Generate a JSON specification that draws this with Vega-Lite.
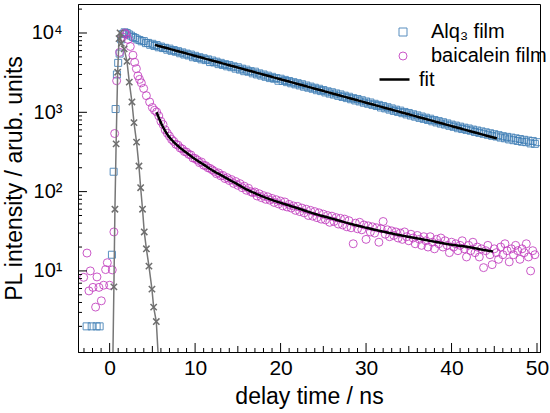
{
  "$schema": "https://vega.github.io/schema/vega-lite/v6.json",
  "width": 462,
  "height": 348,
  "autosize": {"type": "none"},
  "padding": {"left": 78, "top": 4, "right": 10, "bottom": 61},
  "background": "white",
  "config": {
    "view": {"stroke": "black", "strokeWidth": 1},
    "font": "Liberation Sans",
    "axis": {"grid": false, "ticks": false, "domainColor": "black", "domainWidth": 1, "labelColor": "black", "titleColor": "black", "labelFont": "Liberation Sans", "titleFont": "Liberation Sans", "labelFontSize": 21, "titleFontSize": 23, "titleFontWeight": "normal", "labelOverlap": false, "labelBound": false, "labelFlush": false}
  },
  "datasets": {
    "alq": [
      {"t": -2.69, "v": 2}, {"t": -2.1, "v": 2}, {"t": -1.52, "v": 2}, {"t": -1.17, "v": 2},
      {"t": 0.27, "v": 16}, {"t": 0.47, "v": 178}, {"t": 0.7, "v": 1100}, {"t": 0.85, "v": 3000}, {"t": 1.0, "v": 4200}, {"t": 1.17, "v": 5500}, {"t": 1.35, "v": 8300}, {"t": 1.55, "v": 9700}, {"t": 1.75, "v": 10200}, {"t": 2.0, "v": 10000}, {"t": 2.25, "v": 9600}, {"t": 2.5, "v": 9250}, {"t": 2.75, "v": 8900}, {"t": 3.0, "v": 8650}, {"t": 3.25, "v": 8300}, {"t": 3.5, "v": 8150}, {"t": 3.75, "v": 7850},
      {"t": 4, "v": 7900}, {"t": 4.25, "v": 7450}, {"t": 4.5, "v": 7500}, {"t": 4.75, "v": 7100}, {"t": 5, "v": 7300}, {"t": 5.25, "v": 6850}, {"t": 5.5, "v": 7050}, {"t": 5.75, "v": 6600},
      {"t": 6, "v": 6750}, {"t": 6.25, "v": 6450}, {"t": 6.5, "v": 6500}, {"t": 6.75, "v": 6150}, {"t": 7, "v": 6350}, {"t": 7.25, "v": 5950}, {"t": 7.5, "v": 6100}, {"t": 7.75, "v": 5800},
      {"t": 8, "v": 5900}, {"t": 8.25, "v": 5550}, {"t": 8.5, "v": 5700}, {"t": 8.75, "v": 5350}, {"t": 9, "v": 5500}, {"t": 9.25, "v": 5200}, {"t": 9.5, "v": 5350}, {"t": 9.75, "v": 4950},
      {"t": 10, "v": 5150}, {"t": 10.25, "v": 4850}, {"t": 10.5, "v": 4950}, {"t": 10.75, "v": 4650}, {"t": 11, "v": 4800}, {"t": 11.25, "v": 4550}, {"t": 11.5, "v": 4650}, {"t": 11.75, "v": 4300},
      {"t": 12, "v": 4500}, {"t": 12.25, "v": 4250}, {"t": 12.5, "v": 4350}, {"t": 12.75, "v": 4050}, {"t": 13, "v": 4200}, {"t": 13.25, "v": 3950}, {"t": 13.5, "v": 4050}, {"t": 13.75, "v": 3800},
      {"t": 14, "v": 3950}, {"t": 14.25, "v": 3700}, {"t": 14.5, "v": 3800}, {"t": 14.75, "v": 3550}, {"t": 15, "v": 3700}, {"t": 15.25, "v": 3450}, {"t": 15.5, "v": 3550}, {"t": 15.75, "v": 3300},
      {"t": 16, "v": 3450}, {"t": 16.25, "v": 3250}, {"t": 16.5, "v": 3300}, {"t": 16.75, "v": 3100}, {"t": 17, "v": 3250}, {"t": 17.25, "v": 3000}, {"t": 17.5, "v": 3100}, {"t": 17.75, "v": 2900},
      {"t": 18, "v": 3000}, {"t": 18.25, "v": 2800}, {"t": 18.5, "v": 2900}, {"t": 18.75, "v": 2700}, {"t": 19, "v": 2800}, {"t": 19.25, "v": 2650}, {"t": 19.5, "v": 2700}, {"t": 19.75, "v": 2500},
      {"t": 20, "v": 2650}, {"t": 20.25, "v": 2480}, {"t": 20.5, "v": 2560}, {"t": 20.75, "v": 2400}, {"t": 21, "v": 2480}, {"t": 21.25, "v": 2320}, {"t": 21.5, "v": 2400}, {"t": 21.75, "v": 2250},
      {"t": 22, "v": 2330}, {"t": 22.25, "v": 2180}, {"t": 22.5, "v": 2260}, {"t": 22.75, "v": 2100}, {"t": 23, "v": 2180}, {"t": 23.25, "v": 2040}, {"t": 23.5, "v": 2110}, {"t": 23.75, "v": 1980},
      {"t": 24, "v": 2040}, {"t": 24.25, "v": 1900}, {"t": 24.5, "v": 1980}, {"t": 24.75, "v": 1850}, {"t": 25, "v": 1910}, {"t": 25.25, "v": 1780}, {"t": 25.5, "v": 1840}, {"t": 25.75, "v": 1720},
      {"t": 26, "v": 1790}, {"t": 26.25, "v": 1670}, {"t": 26.5, "v": 1730}, {"t": 26.75, "v": 1610}, {"t": 27, "v": 1680}, {"t": 27.25, "v": 1560}, {"t": 27.5, "v": 1620}, {"t": 27.75, "v": 1510},
      {"t": 28, "v": 1570}, {"t": 28.25, "v": 1460}, {"t": 28.5, "v": 1510}, {"t": 28.75, "v": 1410}, {"t": 29, "v": 1470}, {"t": 29.25, "v": 1370}, {"t": 29.5, "v": 1420}, {"t": 29.75, "v": 1320},
      {"t": 30, "v": 1370}, {"t": 30.25, "v": 1280}, {"t": 30.5, "v": 1330}, {"t": 30.75, "v": 1240}, {"t": 31, "v": 1280}, {"t": 31.25, "v": 1200}, {"t": 31.5, "v": 1240}, {"t": 31.75, "v": 1150},
      {"t": 32, "v": 1200}, {"t": 32.25, "v": 1120}, {"t": 32.5, "v": 1160}, {"t": 32.75, "v": 1080}, {"t": 33, "v": 1120}, {"t": 33.25, "v": 1040}, {"t": 33.5, "v": 1080}, {"t": 33.75, "v": 1010},
      {"t": 34, "v": 1050}, {"t": 34.25, "v": 975}, {"t": 34.5, "v": 1010}, {"t": 34.75, "v": 940}, {"t": 35, "v": 980}, {"t": 35.25, "v": 910}, {"t": 35.5, "v": 945}, {"t": 35.75, "v": 880},
      {"t": 36, "v": 915}, {"t": 36.25, "v": 850}, {"t": 36.5, "v": 885}, {"t": 36.75, "v": 825}, {"t": 37, "v": 855}, {"t": 37.25, "v": 800}, {"t": 37.5, "v": 830}, {"t": 37.75, "v": 770},
      {"t": 38, "v": 800}, {"t": 38.25, "v": 745}, {"t": 38.5, "v": 775}, {"t": 38.75, "v": 720}, {"t": 39, "v": 750}, {"t": 39.25, "v": 700}, {"t": 39.5, "v": 725}, {"t": 39.75, "v": 675},
      {"t": 40, "v": 700}, {"t": 40.25, "v": 655}, {"t": 40.5, "v": 680}, {"t": 40.75, "v": 630}, {"t": 41, "v": 660}, {"t": 41.25, "v": 615}, {"t": 41.5, "v": 640}, {"t": 41.75, "v": 600},
      {"t": 42, "v": 625}, {"t": 42.25, "v": 585}, {"t": 42.5, "v": 605}, {"t": 42.75, "v": 565}, {"t": 43, "v": 590}, {"t": 43.25, "v": 550}, {"t": 43.5, "v": 575}, {"t": 43.75, "v": 535},
      {"t": 44, "v": 560}, {"t": 44.25, "v": 520}, {"t": 44.5, "v": 545}, {"t": 44.75, "v": 505}, {"t": 45, "v": 530}, {"t": 45.25, "v": 495}, {"t": 45.5, "v": 515}, {"t": 45.75, "v": 480},
      {"t": 46, "v": 500}, {"t": 46.25, "v": 470}, {"t": 46.5, "v": 490}, {"t": 46.75, "v": 455}, {"t": 47, "v": 480}, {"t": 47.25, "v": 445}, {"t": 47.5, "v": 470}, {"t": 47.75, "v": 435},
      {"t": 48, "v": 460}, {"t": 48.25, "v": 425}, {"t": 48.5, "v": 450}, {"t": 48.75, "v": 420}, {"t": 49, "v": 440}, {"t": 49.25, "v": 405}, {"t": 49.5, "v": 435}, {"t": 49.75, "v": 400}, {"t": 50, "v": 420}
    ],
    "bai": [
      {"t": -3.04, "v": 8.3}, {"t": -2.65, "v": 16.8}, {"t": -2.42, "v": 5.6}, {"t": -2.26, "v": 10}, {"t": -1.95, "v": 6.2}, {"t": -1.64, "v": 3.5}, {"t": -1.48, "v": 8.4}, {"t": -1.25, "v": 6.2}, {"t": -0.97, "v": 4.2}, {"t": -0.7, "v": 6.6}, {"t": -0.47, "v": 10.4}, {"t": -0.27, "v": 12.7}, {"t": 0.0, "v": 6.6}, {"t": 0.31, "v": 10.3}, {"t": 0.5, "v": 31},
      {"t": 0.59, "v": 540}, {"t": 0.82, "v": 2500}, {"t": 1.17, "v": 5700}, {"t": 1.52, "v": 8900}, {"t": 1.76, "v": 10000}, {"t": 1.95, "v": 9600}, {"t": 2.15, "v": 8300}, {"t": 2.42, "v": 6760}, {"t": 2.73, "v": 5250}, {"t": 2.93, "v": 4270}, {"t": 3.13, "v": 3550}, {"t": 3.31, "v": 2880}, {"t": 3.5, "v": 2600}, {"t": 3.71, "v": 2350}, {"t": 3.98, "v": 2000}, {"t": 4.3, "v": 1620}, {"t": 4.68, "v": 1350}, {"t": 5.0, "v": 1150},
      {"t": 5.25, "v": 1060}, {"t": 5.5, "v": 1010}, {"t": 5.75, "v": 900}, {"t": 6, "v": 770}, {"t": 6.25, "v": 700}, {"t": 6.5, "v": 600}, {"t": 6.75, "v": 545}, {"t": 7, "v": 500}, {"t": 7.25, "v": 455}, {"t": 7.5, "v": 430}, {"t": 7.75, "v": 395},
      {"t": 8, "v": 385}, {"t": 8.25, "v": 355}, {"t": 8.5, "v": 345}, {"t": 8.75, "v": 320}, {"t": 9, "v": 315}, {"t": 9.25, "v": 295}, {"t": 9.5, "v": 290}, {"t": 9.75, "v": 265},
      {"t": 10, "v": 262}, {"t": 10.25, "v": 250}, {"t": 10.5, "v": 232}, {"t": 10.75, "v": 236}, {"t": 11, "v": 215}, {"t": 11.25, "v": 212}, {"t": 11.5, "v": 200}, {"t": 11.75, "v": 196},
      {"t": 12, "v": 188}, {"t": 12.25, "v": 180}, {"t": 12.5, "v": 168}, {"t": 12.75, "v": 172}, {"t": 13, "v": 158}, {"t": 13.25, "v": 160}, {"t": 13.5, "v": 146}, {"t": 13.75, "v": 150},
      {"t": 14, "v": 138}, {"t": 14.25, "v": 142}, {"t": 14.5, "v": 127}, {"t": 14.75, "v": 134}, {"t": 15, "v": 120}, {"t": 15.25, "v": 126}, {"t": 15.5, "v": 112}, {"t": 15.75, "v": 117},
      {"t": 16, "v": 104}, {"t": 16.25, "v": 110}, {"t": 16.5, "v": 100}, {"t": 16.75, "v": 97}, {"t": 17, "v": 99}, {"t": 17.25, "v": 88}, {"t": 17.5, "v": 94}, {"t": 17.75, "v": 84},
      {"t": 18, "v": 89}, {"t": 18.25, "v": 80}, {"t": 18.5, "v": 86}, {"t": 18.75, "v": 78}, {"t": 19, "v": 82}, {"t": 19.25, "v": 73}, {"t": 19.5, "v": 79}, {"t": 19.75, "v": 70},
      {"t": 20, "v": 76}, {"t": 20.25, "v": 66}, {"t": 20.5, "v": 74}, {"t": 20.75, "v": 64}, {"t": 21, "v": 69}, {"t": 21.25, "v": 62}, {"t": 21.5, "v": 66}, {"t": 21.75, "v": 58},
      {"t": 22, "v": 65}, {"t": 22.25, "v": 56}, {"t": 22.5, "v": 62}, {"t": 22.75, "v": 54}, {"t": 23, "v": 60}, {"t": 23.25, "v": 50}, {"t": 23.5, "v": 58}, {"t": 23.75, "v": 49},
      {"t": 24, "v": 56}, {"t": 24.25, "v": 47}, {"t": 24.5, "v": 54}, {"t": 24.75, "v": 45}, {"t": 25, "v": 52}, {"t": 25.25, "v": 44}, {"t": 25.5, "v": 50}, {"t": 25.75, "v": 41},
      {"t": 26, "v": 49}, {"t": 26.25, "v": 42}, {"t": 26.5, "v": 47}, {"t": 26.75, "v": 39}, {"t": 27, "v": 46}, {"t": 27.25, "v": 38}, {"t": 27.5, "v": 45}, {"t": 27.75, "v": 36},
      {"t": 28, "v": 43}, {"t": 28.25, "v": 35}, {"t": 28.5, "v": 22}, {"t": 28.75, "v": 40}, {"t": 29, "v": 34}, {"t": 29.25, "v": 41}, {"t": 29.5, "v": 33}, {"t": 29.75, "v": 38},
      {"t": 30, "v": 25}, {"t": 30.25, "v": 37}, {"t": 30.5, "v": 31}, {"t": 30.75, "v": 36}, {"t": 31, "v": 30}, {"t": 31.25, "v": 35}, {"t": 31.5, "v": 23}, {"t": 31.75, "v": 34},
      {"t": 32, "v": 42}, {"t": 32.25, "v": 29}, {"t": 32.5, "v": 33}, {"t": 32.75, "v": 27}, {"t": 33, "v": 32}, {"t": 33.25, "v": 28}, {"t": 33.5, "v": 31}, {"t": 33.75, "v": 26},
      {"t": 34, "v": 30}, {"t": 34.25, "v": 25}, {"t": 34.5, "v": 31}, {"t": 34.75, "v": 27}, {"t": 35, "v": 24}, {"t": 35.25, "v": 29}, {"t": 35.5, "v": 26}, {"t": 35.75, "v": 22},
      {"t": 36, "v": 28}, {"t": 36.25, "v": 25}, {"t": 36.5, "v": 21}, {"t": 36.75, "v": 27}, {"t": 37, "v": 24}, {"t": 37.25, "v": 20}, {"t": 37.5, "v": 27}, {"t": 37.75, "v": 23},
      {"t": 38, "v": 19}, {"t": 38.25, "v": 25}, {"t": 38.5, "v": 22}, {"t": 38.75, "v": 26}, {"t": 39, "v": 20}, {"t": 39.25, "v": 24}, {"t": 39.5, "v": 21}, {"t": 39.75, "v": 17},
      {"t": 40, "v": 23}, {"t": 40.25, "v": 20}, {"t": 40.5, "v": 22}, {"t": 40.75, "v": 18}, {"t": 41, "v": 21}, {"t": 41.25, "v": 24}, {"t": 41.5, "v": 19}, {"t": 41.75, "v": 15},
      {"t": 42, "v": 21}, {"t": 42.25, "v": 18}, {"t": 42.5, "v": 23}, {"t": 42.75, "v": 17}, {"t": 43, "v": 20}, {"t": 43.25, "v": 15}, {"t": 43.5, "v": 19}, {"t": 43.75, "v": 11},
      {"t": 44, "v": 18}, {"t": 44.25, "v": 21}, {"t": 44.5, "v": 16}, {"t": 44.75, "v": 12}, {"t": 45, "v": 19}, {"t": 45.25, "v": 17}, {"t": 45.5, "v": 14}, {"t": 45.75, "v": 20},
      {"t": 46, "v": 16}, {"t": 46.25, "v": 22}, {"t": 46.5, "v": 18}, {"t": 46.75, "v": 13}, {"t": 47, "v": 19}, {"t": 47.25, "v": 16}, {"t": 47.5, "v": 21}, {"t": 47.75, "v": 18},
      {"t": 48, "v": 14}, {"t": 48.25, "v": 19}, {"t": 48.5, "v": 17}, {"t": 48.75, "v": 22}, {"t": 49, "v": 15}, {"t": 49.25, "v": 10}, {"t": 49.5, "v": 18}, {"t": 49.75, "v": 16}
    ],
    "irf": [
      {"t": 0.38, "v": 0.8}, {"t": 0.5, "v": 6.3}, {"t": 0.62, "v": 60}, {"t": 0.76, "v": 400}, {"t": 0.94, "v": 3200}, {"t": 1.1, "v": 8500}, {"t": 1.22, "v": 10000}, {"t": 1.37, "v": 7400}, {"t": 1.7, "v": 6300}, {"t": 2.03, "v": 4400}, {"t": 2.3, "v": 2400}, {"t": 2.61, "v": 1350}, {"t": 2.85, "v": 740}, {"t": 3.15, "v": 420}, {"t": 3.43, "v": 210}, {"t": 3.63, "v": 112}, {"t": 3.85, "v": 60}, {"t": 4.05, "v": 31}, {"t": 4.3, "v": 19}, {"t": 4.6, "v": 11.5}, {"t": 4.95, "v": 5.9}, {"t": 5.15, "v": 3.5}, {"t": 5.46, "v": 2.3}, {"t": 5.7, "v": 0.8}
    ],
    "fitA": [
      {"t": 5.3, "v": 7080}, {"t": 15.3, "v": 3590}, {"t": 25.3, "v": 1820}, {"t": 35.3, "v": 923}, {"t": 45.3, "v": 468}
    ],
    "fitB": [
      {"t": 5.5, "v": 1000}, {"t": 6.0, "v": 741}, {"t": 6.5, "v": 582}, {"t": 7.0, "v": 484}, {"t": 7.5, "v": 422}, {"t": 8.0, "v": 376}, {"t": 8.5, "v": 339}, {"t": 9.0, "v": 309}, {"t": 10, "v": 257}, {"t": 11, "v": 219}, {"t": 12, "v": 186}, {"t": 13, "v": 162}, {"t": 14, "v": 141}, {"t": 15, "v": 123}, {"t": 16, "v": 107}, {"t": 17, "v": 95.5}, {"t": 18, "v": 86.1}, {"t": 19, "v": 78.5}, {"t": 20, "v": 72.4}, {"t": 22, "v": 61.7}, {"t": 24, "v": 52.5}, {"t": 26, "v": 45.7}, {"t": 28, "v": 39.8}, {"t": 30, "v": 35.1}, {"t": 32, "v": 31.3}, {"t": 34, "v": 28.2}, {"t": 36, "v": 25.7}, {"t": 38, "v": 23.4}, {"t": 40, "v": 21.4}, {"t": 42, "v": 20.0}, {"t": 44, "v": 18.2}, {"t": 44.85, "v": 17.6}
    ],
    "xticks": [
      {"p": -3, "k": "minor"}, {"p": -2, "k": "minor"}, {"p": -1, "k": "minor"}, {"p": 0, "k": "major"}, {"p": 1, "k": "minor"}, {"p": 2, "k": "minor"}, {"p": 3, "k": "minor"}, {"p": 4, "k": "minor"}, {"p": 5, "k": "mid"},
      {"p": 6, "k": "minor"}, {"p": 7, "k": "minor"}, {"p": 8, "k": "minor"}, {"p": 9, "k": "minor"}, {"p": 10, "k": "major"}, {"p": 11, "k": "minor"}, {"p": 12, "k": "minor"}, {"p": 13, "k": "minor"}, {"p": 14, "k": "minor"}, {"p": 15, "k": "mid"},
      {"p": 16, "k": "minor"}, {"p": 17, "k": "minor"}, {"p": 18, "k": "minor"}, {"p": 19, "k": "minor"}, {"p": 20, "k": "major"}, {"p": 21, "k": "minor"}, {"p": 22, "k": "minor"}, {"p": 23, "k": "minor"}, {"p": 24, "k": "minor"}, {"p": 25, "k": "mid"},
      {"p": 26, "k": "minor"}, {"p": 27, "k": "minor"}, {"p": 28, "k": "minor"}, {"p": 29, "k": "minor"}, {"p": 30, "k": "major"}, {"p": 31, "k": "minor"}, {"p": 32, "k": "minor"}, {"p": 33, "k": "minor"}, {"p": 34, "k": "minor"}, {"p": 35, "k": "mid"},
      {"p": 36, "k": "minor"}, {"p": 37, "k": "minor"}, {"p": 38, "k": "minor"}, {"p": 39, "k": "minor"}, {"p": 40, "k": "major"}, {"p": 41, "k": "minor"}, {"p": 42, "k": "minor"}, {"p": 43, "k": "minor"}, {"p": 44, "k": "minor"}, {"p": 45, "k": "mid"},
      {"p": 46, "k": "minor"}, {"p": 47, "k": "minor"}, {"p": 48, "k": "minor"}, {"p": 49, "k": "minor"}, {"p": 50, "k": "major"}
    ],
    "yticks": [
      {"p": 2, "k": "minor"}, {"p": 3, "k": "minor"}, {"p": 4, "k": "minor"}, {"p": 5, "k": "minor"}, {"p": 6, "k": "minor"}, {"p": 7, "k": "minor"}, {"p": 8, "k": "minor"}, {"p": 9, "k": "minor"}, {"p": 10, "k": "major"},
      {"p": 20, "k": "minor"}, {"p": 30, "k": "minor"}, {"p": 40, "k": "minor"}, {"p": 50, "k": "minor"}, {"p": 60, "k": "minor"}, {"p": 70, "k": "minor"}, {"p": 80, "k": "minor"}, {"p": 90, "k": "minor"}, {"p": 100, "k": "major"},
      {"p": 200, "k": "minor"}, {"p": 300, "k": "minor"}, {"p": 400, "k": "minor"}, {"p": 500, "k": "minor"}, {"p": 600, "k": "minor"}, {"p": 700, "k": "minor"}, {"p": 800, "k": "minor"}, {"p": 900, "k": "minor"}, {"p": 1000, "k": "major"},
      {"p": 2000, "k": "minor"}, {"p": 3000, "k": "minor"}, {"p": 4000, "k": "minor"}, {"p": 5000, "k": "minor"}, {"p": 6000, "k": "minor"}, {"p": 7000, "k": "minor"}, {"p": 8000, "k": "minor"}, {"p": 9000, "k": "minor"}, {"p": 10000, "k": "major"},
      {"p": 20000, "k": "minor"}
    ]
  },
  "layer": [
    {
      "data": {"name": "alq"},
      "mark": {"type": "point", "filled": false, "size": 49, "strokeWidth": 1, "opacity": 0.85, "clip": true},
      "encoding": {
        "x": {"field": "t", "type": "quantitative", "scale": {"domain": [-3.7, 50.35], "nice": false, "zero": false},
          "axis": {"orient": "bottom", "title": "delay time / ns", "values": [0, 10, 20, 30, 40, 50], "format": "d", "labelPadding": 5, "titlePadding": 7}},
        "y": {"field": "v", "type": "quantitative", "scale": {"type": "log", "domain": [0.95, 23200], "nice": false},
          "axis": {"orient": "left", "title": "PL intensity / arub. units", "values": [10, 100, 1000, 10000], "labelFontSize": 20,
            "labelExpr": "datum.value === 10 ? '10¹' : datum.value === 100 ? '10²' : datum.value === 1000 ? '10³' : '10⁴'", "labelPadding": 16, "titlePadding": 5}},
        "color": {
          "datum": "Alq₃ film", "type": "nominal",
          "scale": {"domain": ["Alq₃ film", "baicalein film"], "range": ["#3d7db5", "#c23cbf"]},
          "legend": {"title": null, "orient": "none", "legendX": 315, "legendY": 18, "padding": 0, "labelFont": "Liberation Sans", "labelFontSize": 20, "labelColor": "black", "labelOffset": 18, "labelLimit": 300, "rowPadding": 4, "symbolSize": 64, "symbolStrokeWidth": 1}
        },
        "shape": {
          "datum": "Alq₃ film", "type": "nominal",
          "scale": {"domain": ["Alq₃ film", "baicalein film"], "range": ["square", "circle"]},
          "legend": {"title": null, "orient": "none", "legendX": 315, "legendY": 18, "padding": 0, "labelFont": "Liberation Sans", "labelFontSize": 20, "labelColor": "black", "labelOffset": 18, "labelLimit": 300, "rowPadding": 4, "symbolSize": 64, "symbolStrokeWidth": 1}
        }
      }
    },
    {
      "data": {"name": "bai"},
      "mark": {"type": "point", "filled": false, "size": 64, "strokeWidth": 1, "opacity": 0.85, "clip": true},
      "encoding": {
        "x": {"field": "t", "type": "quantitative", "scale": {"domain": [-3.7, 50.35], "nice": false, "zero": false}},
        "y": {"field": "v", "type": "quantitative", "scale": {"type": "log", "domain": [0.95, 23200], "nice": false}},
        "color": {"datum": "baicalein film", "type": "nominal"},
        "shape": {"datum": "baicalein film", "type": "nominal"}
      }
    },
    {
      "data": {"name": "irf"},
      "mark": {"type": "line", "color": "#777777", "strokeWidth": 1.5, "clip": true},
      "encoding": {
        "x": {"field": "t", "type": "quantitative", "scale": {"domain": [-3.7, 50.35], "nice": false, "zero": false}},
        "y": {"field": "v", "type": "quantitative", "scale": {"type": "log", "domain": [0.95, 23200], "nice": false}}
      }
    },
    {
      "data": {"name": "irf"},
      "transform": [{"filter": "datum.v > 1"}],
      "mark": {"type": "point", "shape": "M-1,-1L1,1M1,-1L-1,1", "filled": false, "color": "#6e6e6e", "size": 40, "strokeWidth": 1.5, "opacity": 1, "clip": true},
      "encoding": {
        "x": {"field": "t", "type": "quantitative", "scale": {"domain": [-3.7, 50.35], "nice": false, "zero": false}},
        "y": {"field": "v", "type": "quantitative", "scale": {"type": "log", "domain": [0.95, 23200], "nice": false}}
      }
    },
    {
      "data": {"name": "fitA"},
      "mark": {"type": "line", "color": "black", "strokeWidth": 2.5, "clip": true},
      "encoding": {
        "x": {"field": "t", "type": "quantitative", "scale": {"domain": [-3.7, 50.35], "nice": false, "zero": false}},
        "y": {"field": "v", "type": "quantitative", "scale": {"type": "log", "domain": [0.95, 23200], "nice": false}},
        "strokeDash": {"datum": "fit", "type": "nominal", "scale": {"domain": ["fit"], "range": [[1, 0]]},
          "legend": {"title": null, "orient": "none", "legendX": 300, "legendY": 59, "padding": 0, "labelFont": "Liberation Sans", "labelFontSize": 20, "labelColor": "black", "labelOffset": 8, "symbolType": "stroke", "symbolSize": 900, "symbolStrokeWidth": 2.5, "symbolStrokeColor": "black"}}
      }
    },
    {
      "data": {"name": "fitB"},
      "mark": {"type": "line", "color": "black", "strokeWidth": 2.5, "interpolate": "monotone", "clip": true},
      "encoding": {
        "x": {"field": "t", "type": "quantitative", "scale": {"domain": [-3.7, 50.35], "nice": false, "zero": false}},
        "y": {"field": "v", "type": "quantitative", "scale": {"type": "log", "domain": [0.95, 23200], "nice": false}},
        "strokeDash": {"datum": "fit", "type": "nominal"}
      }
    },
    {
      "data": {"name": "xticks"},
      "transform": [{"filter": "datum.k === 'major'"}],
      "mark": {"type": "rule", "color": "black", "strokeWidth": 1, "opacity": 1},
      "encoding": {
        "x": {"field": "p", "type": "quantitative", "scale": {"domain": [-3.7, 50.35], "nice": false, "zero": false}},
        "y": {"datum": 0.95, "type": "quantitative", "scale": {"type": "log", "domain": [0.95, 23200], "nice": false}},
        "y2": {"datum": 1.234}
      }
    },
    {
      "data": {"name": "xticks"},
      "transform": [{"filter": "datum.k === 'mid'"}],
      "mark": {"type": "rule", "color": "black", "strokeWidth": 1, "opacity": 1},
      "encoding": {
        "x": {"field": "p", "type": "quantitative", "scale": {"domain": [-3.7, 50.35], "nice": false, "zero": false}},
        "y": {"datum": 0.95, "type": "quantitative", "scale": {"type": "log", "domain": [0.95, 23200], "nice": false}},
        "y2": {"datum": 1.131}
      }
    },
    {
      "data": {"name": "xticks"},
      "transform": [{"filter": "datum.k === 'minor'"}],
      "mark": {"type": "rule", "color": "black", "strokeWidth": 1, "opacity": 1},
      "encoding": {
        "x": {"field": "p", "type": "quantitative", "scale": {"domain": [-3.7, 50.35], "nice": false, "zero": false}},
        "y": {"datum": 0.95, "type": "quantitative", "scale": {"type": "log", "domain": [0.95, 23200], "nice": false}},
        "y2": {"datum": 1.067}
      }
    },
    {
      "data": {"name": "yticks"},
      "transform": [{"filter": "datum.k === 'major'"}],
      "mark": {"type": "rule", "color": "black", "strokeWidth": 1, "opacity": 1},
      "encoding": {
        "y": {"field": "p", "type": "quantitative", "scale": {"type": "log", "domain": [0.95, 23200], "nice": false}},
        "x": {"datum": -3.7, "type": "quantitative", "scale": {"domain": [-3.7, 50.35], "nice": false, "zero": false}},
        "x2": {"datum": -2.65}
      }
    },
    {
      "data": {"name": "yticks"},
      "transform": [{"filter": "datum.k === 'minor'"}],
      "mark": {"type": "rule", "color": "black", "strokeWidth": 1, "opacity": 1},
      "encoding": {
        "y": {"field": "p", "type": "quantitative", "scale": {"type": "log", "domain": [0.95, 23200], "nice": false}},
        "x": {"datum": -3.7, "type": "quantitative", "scale": {"domain": [-3.7, 50.35], "nice": false, "zero": false}},
        "x2": {"datum": -3.23}
      }
    }
  ]
}
